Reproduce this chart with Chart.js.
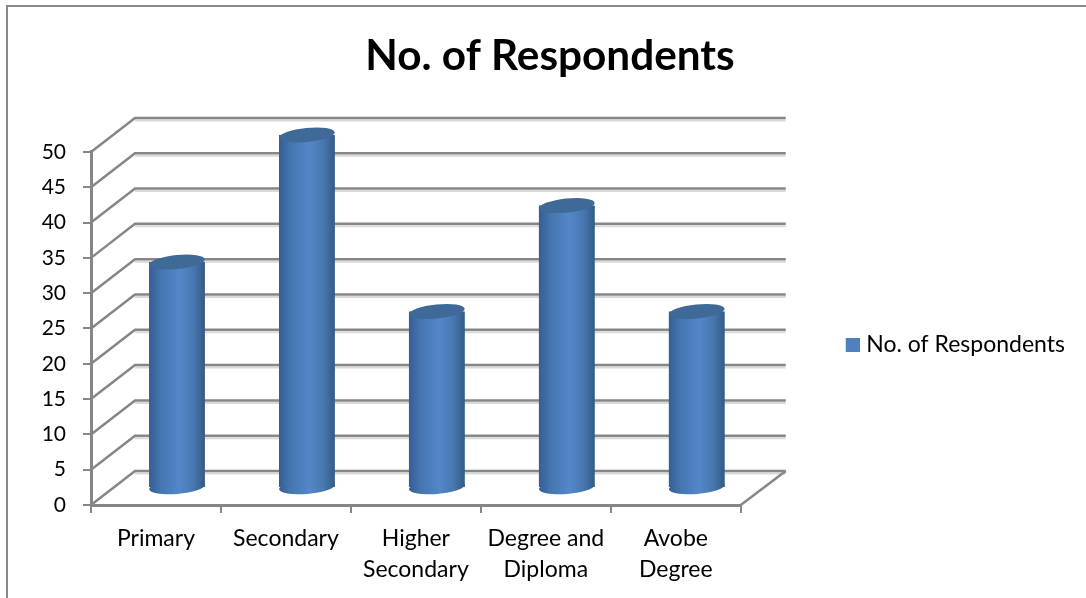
<!DOCTYPE html>
<html>
<head>
<meta charset="utf-8">
<script src="https://cdn.jsdelivr.net/npm/chart.js@4"></script>
<style>
  html, body { margin: 0; padding: 0; background: #fff; }
  #wrap { position: absolute; left: 0; top: 0; width: 1086px; height: 598px; }
  #frame { position: absolute; left: 6px; top: 5px; right: 0; bottom: 0; border-left: 2px solid #8a8a8a; border-top: 2px solid #8a8a8a; }
  canvas { position: absolute; left: 0; top: 0; }
</style>
</head>
<body>
<div id="wrap">
  <div id="frame"></div>
  <canvas id="chart" width="1086" height="598"></canvas>
</div>
<script>
const categorias = [["Primary"], ["Secondary"], ["Higher", "Secondary"], ["Degree and", "Diploma"], ["Avobe", "Degree"]];
const respondents = [32, 50, 25, 40, 25];
const serieNombre = "No. of Respondents";

// profundidad del efecto 3D
const fondoX = 44;
const fondoY = 34;
const colorEje = "#868686";

// cuadro de la leyenda, con margen a la izquierda para acercar el texto
const cuadroLeyenda = document.createElement("canvas");
cuadroLeyenda.width = 19;
cuadroLeyenda.height = 14;
const ctxCuadro = cuadroLeyenda.getContext("2d");
ctxCuadro.fillStyle = "#4f81bd";
ctxCuadro.fillRect(5, 0, 14, 14);

// paredes y lineas de fondo
const paredes = {
    id: "paredes",
    afterLayout(chart) {
        // leyenda y titulo van separados del area del grafico, como en el original
        const l = chart.legend;
        l.left += 97; l.right += 97;
        l.top += 30; l.bottom += 30;
        const t = chart.titleBlock;
        t.left += 43.5; t.right += 43.5;
    },
    beforeDatasetsDraw(chart) {
        const { ctx, scales } = chart;
        const izq = scales.x.left;
        const der = scales.x.right;
        ctx.save();
        scales.y.ticks.forEach((t) => {
            const y = scales.y.getPixelForValue(t.value);
            ctx.strokeStyle = "#d9d9d9";
            ctx.lineWidth = 2;
            ctx.beginPath();
            ctx.moveTo(izq + fondoX, y - fondoY + 2.5);
            ctx.lineTo(der + fondoX + 1, y - fondoY + 2.5);
            ctx.stroke();

            ctx.strokeStyle = colorEje;
            ctx.lineWidth = 2.5;
            ctx.beginPath();
            ctx.moveTo(izq, y);
            ctx.lineTo(izq + fondoX, y - fondoY);
            ctx.lineTo(der + fondoX + 1, y - fondoY);
            ctx.stroke();
        });
        // piso, lado derecho
        const y0 = scales.y.getPixelForValue(0);
        ctx.beginPath();
        ctx.moveTo(der, y0);
        ctx.lineTo(der + fondoX + 1, y0 - fondoY);
        ctx.stroke();
        ctx.restore();
    }
};

// cilindros: se mueven al centro de la profundidad y se agregan las elipses
const cilindros = {
    id: "cilindros",
    beforeDatasetDraw(chart) {
        const ctx = chart.ctx;
        ctx.save();
        ctx.translate(fondoX / 2 - 1, -fondoY / 2);
        chart.getDatasetMeta(0).data.forEach((bar) => {
            const { x, base, width } = bar.getProps(["x", "base", "width"], true);
            ctx.fillStyle = gradienteBarra(ctx, x, width);
            ctx.beginPath();
            ctx.ellipse(x, base, width / 2, 7, -0.08, 0, Math.PI * 2);
            ctx.fill();
        });
    },
    afterDatasetDraw(chart) {
        const ctx = chart.ctx;
        chart.getDatasetMeta(0).data.forEach((bar) => {
            const { x, y, width } = bar.getProps(["x", "y", "width"], true);
            ctx.fillStyle = "#3f6997";
            ctx.beginPath();
            ctx.ellipse(x, y, width / 2, 7, -0.1, 0, Math.PI * 2);
            ctx.fill();
        });
        ctx.restore();
    }
};

function gradienteBarra(ctx, x, ancho) {
    const g = ctx.createLinearGradient(x - ancho / 2, 0, x + ancho / 2, 0);
    g.addColorStop(0, "#335e92");
    g.addColorStop(0.2, "#4475b0");
    g.addColorStop(0.55, "#5387ca");
    g.addColorStop(0.8, "#4777ae");
    g.addColorStop(1, "#335a86");
    return g;
}

new Chart(document.getElementById("chart").getContext("2d"), {
    type: "bar",
    data: {
        labels: categorias,
        datasets: [{
            label: serieNombre,
            data: respondents,
            backgroundColor: (c) => {
                const x = c.chart.scales.x.getPixelForValue(c.dataIndex);
                return gradienteBarra(c.chart.ctx, x, 56);
            },
            borderWidth: 0,
            categoryPercentage: 0.43,
            barPercentage: 1,
            clip: false
        }]
    },
    options: {
        responsive: false,
        animation: false,
        layout: { autoPadding: false, padding: { left: 38, right: 111, top: 31, bottom: 0 } },
        plugins: {
            title: {
                display: true,
                text: serieNombre,
                color: "#000",
                font: { family: "Lato", size: 42.3, weight: "bold" },
                padding: { top: 0, bottom: 70.2 }
            },
            legend: {
                display: true,
                position: "right",
                labels: {
                    boxWidth: 9,
                    boxHeight: 14,
                    usePointStyle: true,
                    color: "#000",
                    font: { family: "Lato", size: 23 },
                    padding: 8,
                    generateLabels: () => [{ text: serieNombre, pointStyle: cuadroLeyenda, fillStyle: "#4f81bd", lineWidth: 0, strokeStyle: "transparent" }]
                }
            },
            tooltip: { enabled: false }
        },
        scales: {
            x: {
                afterFit: (eje) => { eje.height = 93; },
                grid: { display: true, drawOnChartArea: false, color: colorEje, lineWidth: 2, tickLength: 8, offset: true },
                border: { color: colorEje, width: 3 },
                ticks: { color: "#000", font: { family: "Lato", size: 23, lineHeight: 1.35 }, padding: 10, maxRotation: 0 }
            },
            y: {
                min: 0,
                max: 50,
                afterFit: (eje) => { eje.width = 53; },
                ticks: { stepSize: 5, color: "#000", font: { family: "Lato", size: 21 }, padding: 17 },
                grid: { drawOnChartArea: false, color: colorEje, lineWidth: 2, tickLength: 8 },
                border: { color: colorEje, width: 3 }
            }
        }
    },
    plugins: [paredes, cilindros]
});
</script>
</body>
</html>
